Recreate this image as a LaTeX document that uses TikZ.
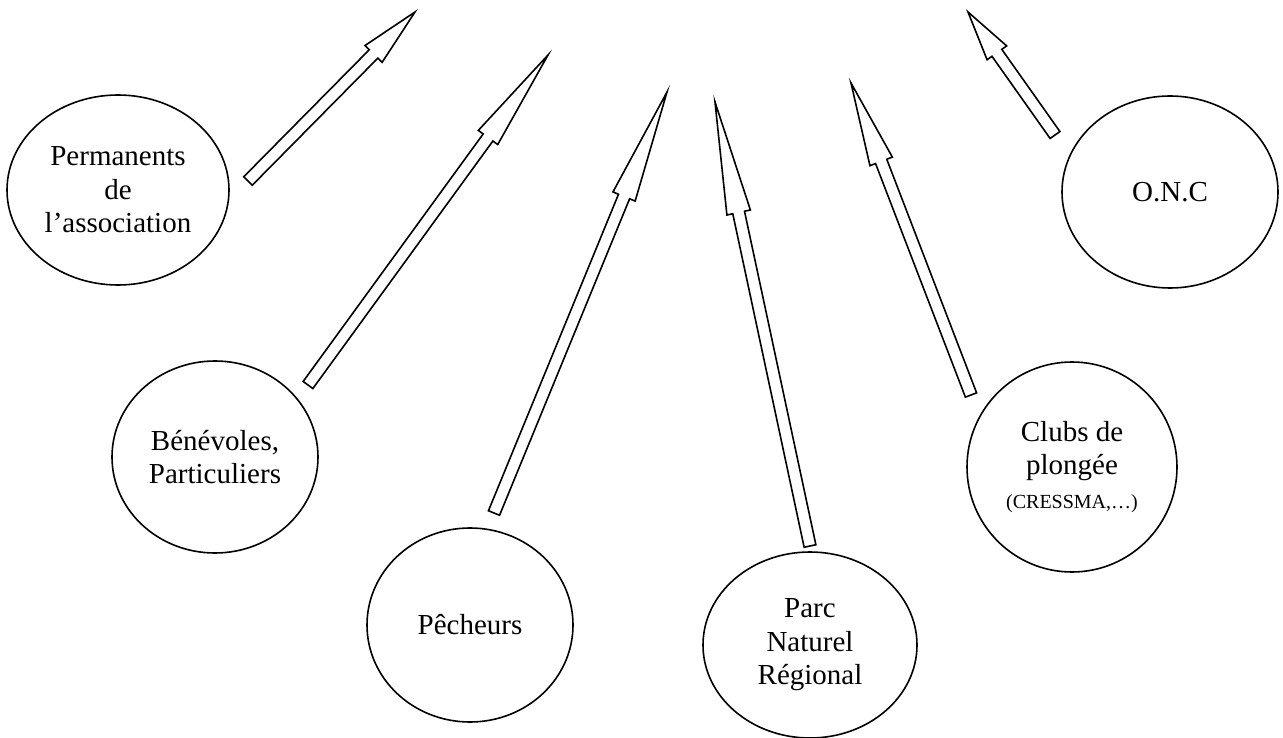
\documentclass[tikz,border=0pt]{standalone}
\usepackage{fontspec}
\setmainfont{Liberation Serif}
\usetikzlibrary{shapes.geometric,calc}
\tikzset{
  ell/.style={draw, line width=1.6pt, ellipse, inner sep=0pt, align=center,
    font=\fontsize{29}{33.5}\selectfont},
  blockarr/.style={draw, line width=1.6pt, fill=white, line join=miter},
}
\newcommand\blockarrow[3]{%
  \coordinate (ba) at ($(#2)!#3pt!(#1)$);
  \draw[blockarr] ($(#1)!6pt!90:(#2)$) -- ($(ba)!6pt!-90:(#1)$) -- ($(ba)!12pt!-90:(#1)$)
    -- (#2) -- ($(ba)!12pt!90:(#1)$) -- ($(ba)!6pt!90:(#1)$) -- ($(#1)!6pt!-90:(#2)$) -- cycle;
}
\begin{document}
\begin{tikzpicture}[x=1pt,y=-1pt]
\useasboundingbox (0,0) rectangle (1283,738);
\node[ell, minimum width=222pt, minimum height=190pt] (perm) at (118,190) {Permanents\\de\\l’association};
\node[ell, minimum width=206pt, minimum height=192pt] (bene) at (215,457) {Bénévoles,\\Particuliers};
\node[ell, minimum width=206pt, minimum height=194pt] (pech) at (470,625) {Pêcheurs};
\node[ell, minimum width=214pt, minimum height=186pt] (parc) at (810,645) {Parc\\Naturel\\Régional};
\node[ell, minimum width=210pt, minimum height=210pt] (club) at (1072,467) {Clubs de\\plongée\\{\fontsize{20}{24}\selectfont (CRESSMA,…)}};
\node[ell, minimum width=216pt, minimum height=192pt] (onc) at (1170,192) {O.N.C};

\coordinate (t1) at (248,181); \coordinate (p1) at (415,12);
\coordinate (t2) at (308,385); \coordinate (p2) at (548,55);
\coordinate (t3) at (494,513); \coordinate (p3) at (667,92);
\coordinate (t4) at (810,546); \coordinate (p4) at (715,102);
\coordinate (t5) at (971,395); \coordinate (p5) at (851,83);
\coordinate (t6) at (1055,135); \coordinate (p6) at (968,12);
\blockarrow{t1}{p1}{59}
\blockarrow{t2}{p2}{102}
\blockarrow{t3}{p3}{113}
\blockarrow{t4}{p4}{113}
\blockarrow{t5}{p5}{84}
\blockarrow{t6}{p6}{50}
\end{tikzpicture}
\end{document}
